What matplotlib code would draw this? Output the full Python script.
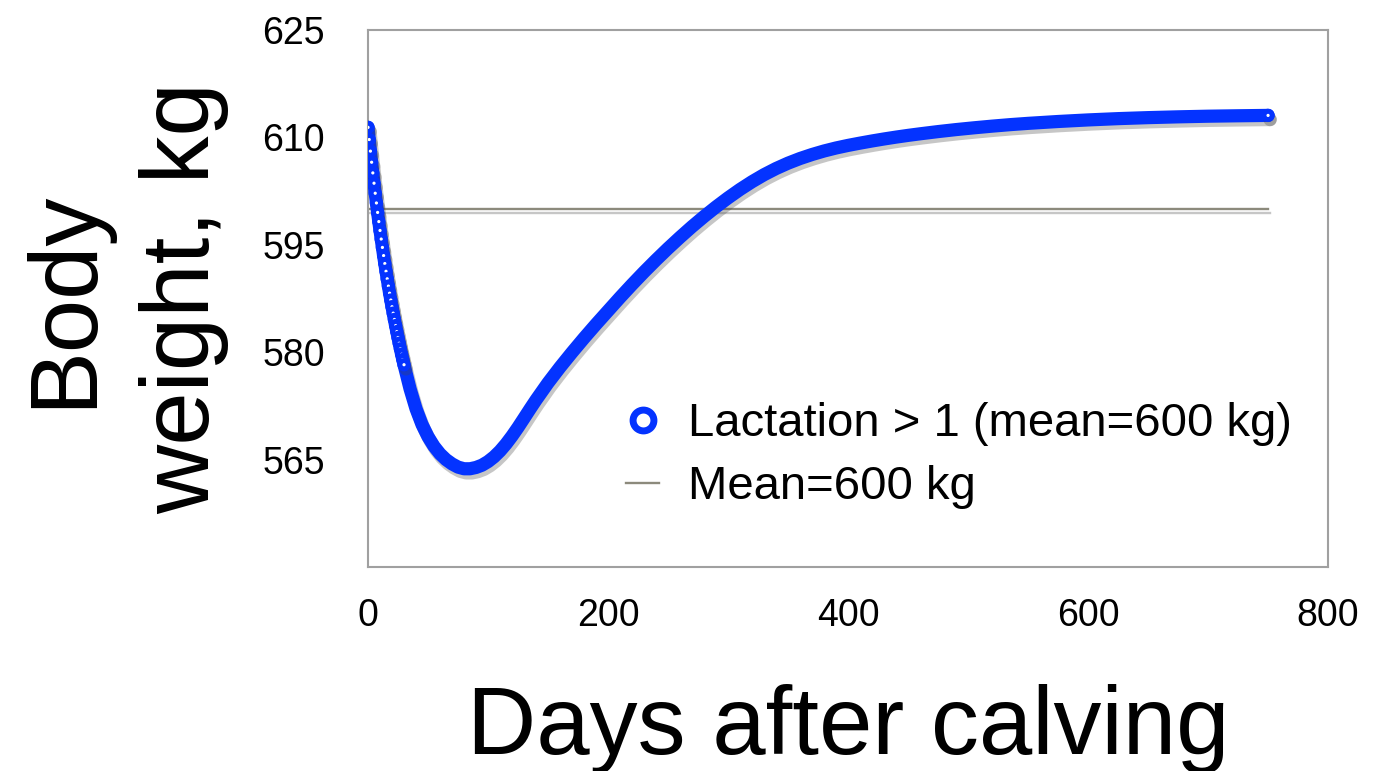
import matplotlib
matplotlib.use("Agg")
import matplotlib.pyplot as plt
import matplotlib.patheffects as pe
from matplotlib.lines import Line2D

plt.rcParams['font.family'] = ['Liberation Sans', 'DejaVu Sans']

# body weight (daily at the start, sparser later)
days = list(range(0, 31)) + [35, 40, 45, 50, 55, 60, 65, 70, 75, 80, 85, 90, 95,
        100, 105, 110, 115, 120, 125, 130, 135, 140, 150, 160, 170, 180, 190,
        200, 210, 220, 230, 240, 250, 260, 270, 280, 290, 300, 310, 320, 330,
        340, 350, 360, 370, 380, 390, 400, 410, 420, 430, 440, 450, 460, 475,
        490, 505, 520, 535, 550, 575, 600, 625, 650, 675, 700, 725, 750]
weight = [611.4, 609.7, 608.08, 606.53, 605.04, 603.6, 602.2, 600.84, 599.52, 598.24,
          597.0, 595.8, 594.63, 593.49, 592.38, 591.3, 590.25, 589.23, 588.24, 587.28,
          586.35, 585.45, 584.57, 583.71, 582.87, 582.05, 581.25, 580.47, 579.71, 578.97,
          578.25, 574.9, 572.1, 569.9, 568.2, 566.85, 565.8, 565.0, 564.4, 563.95,
          563.72, 563.72, 563.9, 564.22, 564.72, 565.38, 566.2, 567.18, 568.29, 569.5,
          570.78, 572.07, 573.33, 575.71, 577.9, 579.97, 581.97, 583.9, 585.77, 587.64,
          589.45, 591.2, 592.88, 594.5, 596.05, 597.54, 598.95, 600.29, 601.55, 602.73,
          603.81, 604.79, 605.65, 606.4, 607.05, 607.61, 608.1, 608.52, 608.88, 609.2,
          609.5, 609.78, 610.04, 610.28, 610.5, 610.81, 611.09, 611.34, 611.57, 611.78,
          611.96, 612.22, 612.44, 612.62, 612.76, 612.87, 612.96, 613.02, 613.07]
mean_days = [0, 750]
mean_weight = [600, 600]

blue = '#0433ff'
grey = '#8c8a7c'

fig = plt.figure(figsize=(13.94, 7.71), dpi=100)
ax = fig.add_axes([0.264, 0.2646, 0.6887, 0.6965])

shadow = [pe.SimpleLineShadow(offset=(1.5, -3), shadow_color='#444444', alpha=0.3), pe.Normal()]

ax.plot(mean_days, mean_weight, color=grey, lw=1.7, path_effects=shadow, zorder=2)

marks = list(range(31)) + [len(days) - 1]
ax.plot(days, weight, color=blue, lw=9.5, solid_capstyle='round', solid_joinstyle='round',
        marker='o', markevery=marks, ms=6, mew=3.6, mec=blue, mfc='white',
        path_effects=shadow, zorder=3)

ax.set_xlim(0, 800)
ax.set_ylim(550, 625)
ax.set_xticks([0, 200, 400, 600, 800])
ax.set_yticks([565, 580, 595, 610, 625])
ax.tick_params(length=0, labelsize=27)
ax.tick_params(axis='x', pad=22)
ax.tick_params(axis='y', pad=31)
for s in ax.spines.values():
    s.set_color('#a0a0a0')
    s.set_linewidth(1.5)

ax.set_xlabel("Days after calving", fontsize=69)
ax.xaxis.set_label_coords(0.5, -0.217)
ax.set_ylabel("Body\nweight, kg", fontsize=69, linespacing=1.41)
ax.yaxis.set_label_coords(-0.145, 0.5)

handles = [Line2D([], [], ls='none', marker='o', ms=15, mew=5, mec=blue, mfc='white'),
           Line2D([], [], color=grey, lw=1.7)]
ax.legend(handles, ["Lactation > 1 (mean=600 kg)", "Mean=600 kg"], loc='upper left',
          bbox_to_anchor=(0.269, 0.307), frameon=False, fontsize=34, borderpad=0,
          borderaxespad=0, handlelength=0.7, handletextpad=0.6, labelspacing=0.41)

fig.savefig("out.png", dpi=100)
